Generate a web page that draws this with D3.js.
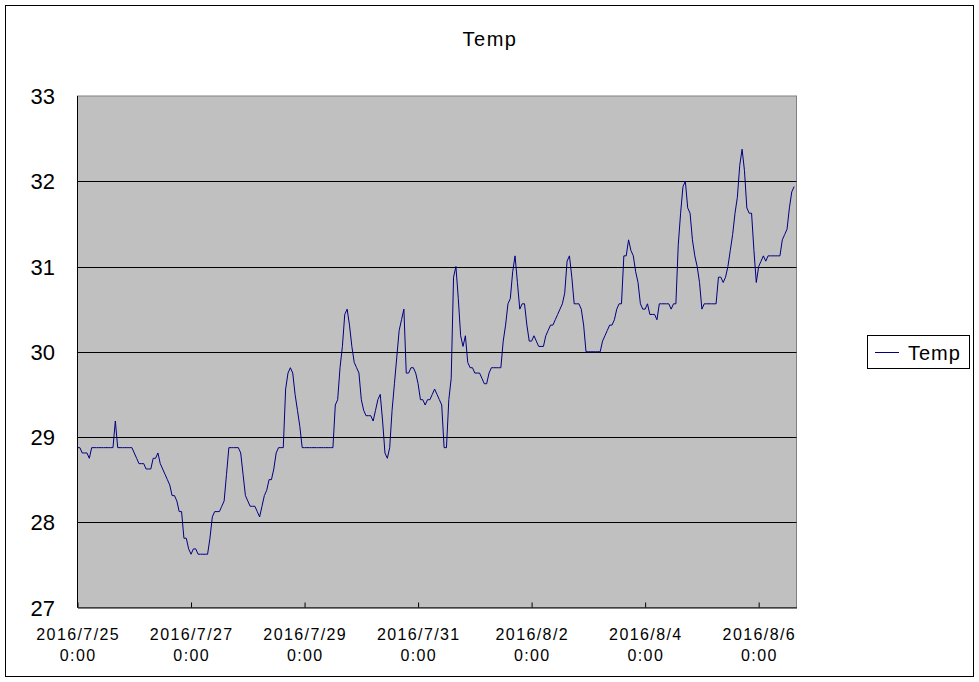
<!DOCTYPE html>
<html>
    <head>
        <meta charset="utf-8">
        <script src="https://d3js.org/d3.v7.min.js"></script>
        <style>
          body { margin: 0; background: #fff; }
          text { font-family: "Liberation Sans", Arial, sans-serif; fill: #000; }
        </style>
    </head>
    <body>
        <div id="chart"></div>
        <script>
            // hourly readings from 2016/7/25 0:00
            const startTime = new Date(2016, 6, 25, 0, 0);
            const endTime = new Date(2016, 7, 6, 16, 0);
            const temps = [
              28.875, 28.875, 28.8125, 28.8125, 28.8125, 28.75, 28.875, 28.875, 28.875, 28.875, 28.875, 28.875,
              28.875, 28.875, 28.875, 28.875, 29.1875, 28.875, 28.875, 28.875, 28.875, 28.875, 28.875, 28.875,
              28.8125, 28.75, 28.6875, 28.6875, 28.6875, 28.625, 28.625, 28.625, 28.75, 28.75, 28.8125, 28.6875,
              28.625, 28.5625, 28.5, 28.4375, 28.3125, 28.3125, 28.25, 28.125, 28.125, 27.8125, 27.8125, 27.6875,
              27.625, 27.6875, 27.6875, 27.625, 27.625, 27.625, 27.625, 27.625, 27.8125, 28.0625, 28.125, 28.125,
              28.125, 28.1875, 28.25, 28.5625, 28.875, 28.875, 28.875, 28.875, 28.875, 28.8125, 28.5625, 28.3125,
              28.25, 28.1875, 28.1875, 28.1875, 28.125, 28.0625, 28.1875, 28.3125, 28.375, 28.5, 28.5, 28.625,
              28.8125, 28.875, 28.875, 28.875, 29.5625, 29.75, 29.8125, 29.75, 29.5, 29.3125, 29.125, 28.875,
              28.875, 28.875, 28.875, 28.875, 28.875, 28.875, 28.875, 28.875, 28.875, 28.875, 28.875, 28.875,
              28.875, 29.375, 29.4375, 29.8125, 30.0625, 30.4375, 30.5, 30.3125, 30.0625, 29.875, 29.8125, 29.75,
              29.4375, 29.3125, 29.25, 29.25, 29.25, 29.1875, 29.3125, 29.4375, 29.5, 29.1875, 28.8125, 28.75,
              28.875, 29.3125, 29.625, 29.9375, 30.25, 30.375, 30.5, 29.75, 29.75, 29.8125, 29.8125, 29.75,
              29.625, 29.4375, 29.4375, 29.375, 29.4375, 29.4375, 29.5, 29.5625, 29.5, 29.4375, 29.375, 28.875,
              28.875, 29.4375, 29.6875, 30.875, 31.0, 30.625, 30.1875, 30.0625, 30.1875, 29.875, 29.8125, 29.8125,
              29.75, 29.75, 29.75, 29.6875, 29.625, 29.625, 29.75, 29.8125, 29.8125, 29.8125, 29.8125, 29.8125,
              30.125, 30.3125, 30.5625, 30.625, 30.9375, 31.125, 30.8125, 30.5, 30.5625, 30.5625, 30.3125, 30.125,
              30.125, 30.1875, 30.125, 30.0625, 30.0625, 30.0625, 30.1875, 30.25, 30.3125, 30.3125, 30.375, 30.4375,
              30.5, 30.5625, 30.6875, 31.0625, 31.125, 30.875, 30.5625, 30.5625, 30.5625, 30.5, 30.3125, 30.0,
              30.0, 30.0, 30.0, 30.0, 30.0, 30.0, 30.125, 30.1875, 30.25, 30.3125, 30.3125, 30.375,
              30.5, 30.5625, 30.5625, 31.125, 31.125, 31.3125, 31.1875, 31.125, 30.9375, 30.8125, 30.5625, 30.5,
              30.5, 30.5625, 30.4375, 30.4375, 30.4375, 30.375, 30.5625, 30.5625, 30.5625, 30.5625, 30.5625, 30.5,
              30.5625, 30.5625, 31.25, 31.625, 31.9375, 32.0, 31.6875, 31.625, 31.3125, 31.125, 31.0, 30.8125,
              30.5, 30.5625, 30.5625, 30.5625, 30.5625, 30.5625, 30.5625, 30.875, 30.875, 30.8125, 30.875, 31.0,
              31.1875, 31.375, 31.625, 31.8125, 32.1875, 32.375, 32.125, 31.6875, 31.625, 31.625, 31.1875, 30.8125,
              31.0, 31.0625, 31.125, 31.0625, 31.125, 31.125, 31.125, 31.125, 31.125, 31.125, 31.3125, 31.375,
              31.4375, 31.6875, 31.875, 31.9375
            ];
            const yTicks = [27, 28, 29, 30, 31, 32, 33];
            const xTickDays = ["2016/7/25", "2016/7/27", "2016/7/29", "2016/7/31", "2016/8/2", "2016/8/4", "2016/8/6"];

            const width = 979,
                height = 682;
            const plot = {left: 77.5, top: 96, right: 796.5, bottom: 607.5};

            const svg = d3.select("#chart")
              .append("svg")
                .attr("width", width)
                .attr("height", height);

            // outer frame
            svg.append("rect")
              .attr("x", 5.5).attr("y", 5.5)
              .attr("width", 968).attr("height", 671)
              .attr("fill", "#fff")
              .attr("stroke", "#000");

            const x = d3.scaleTime()
              .domain([startTime, endTime])
              .range([plot.left, plot.right]);
            const y = d3.scaleLinear()
              .domain([27, 33])
              .range([plot.bottom, plot.top]);

            const data = temps.map((v, i) => ({t: d3.timeHour.offset(startTime, i), v: v}));

            // plot area
            svg.append("rect")
              .attr("x", plot.left).attr("y", plot.top)
              .attr("width", plot.right - plot.left)
              .attr("height", plot.bottom - plot.top)
              .attr("fill", "#c0c0c0")
              .attr("stroke", "#808080");

            // gridlines
            svg.append("g")
              .selectAll("line")
              .data(yTicks.slice(1, -1))
              .join("line")
                .attr("x1", plot.left).attr("x2", plot.right)
                .attr("y1", d => Math.round(y(d)) + 0.5)
                .attr("y2", d => Math.round(y(d)) + 0.5)
                .attr("stroke", "#000");

            // y labels
            svg.append("g")
              .selectAll("text")
              .data(yTicks)
              .join("text")
                .attr("x", 55)
                .attr("y", d => y(d) + 8)
                .attr("text-anchor", "end")
                .style("font-size", "22px")
                .text(d => d);

            // x axis with inside ticks
            const tickDates = xTickDays.map(s => d3.timeParse("%Y/%m/%d")(s));
            const xAxis = svg.append("g")
              .attr("transform", `translate(0, ${plot.bottom})`)
              .call(d3.axisBottom(x).tickValues(tickDates).tickSizeInner(-5).tickSizeOuter(0).tickFormat(""));
            xAxis.select(".domain").attr("stroke", "#000");
            xAxis.selectAll(".tick line").attr("stroke", "#000");

            const xLabels = svg.append("g")
              .selectAll("text")
              .data(xTickDays)
              .join("text")
                .attr("text-anchor", "middle")
                .style("font-size", "16px")
                .style("letter-spacing", "1.4px")
                .attr("transform", (d, i) => `translate(${x(tickDates[i]) + 0.7}, 0)`);
            xLabels.append("tspan").attr("x", 0).attr("y", 640).text(d => d);
            xLabels.append("tspan").attr("x", 0).attr("y", 661).text("0:00");

            // y axis line
            svg.append("line")
              .attr("x1", plot.left).attr("x2", plot.left)
              .attr("y1", plot.top).attr("y2", plot.bottom)
              .attr("stroke", "#000");

            // series
            const line = d3.line()
              .x(d => x(d.t))
              .y(d => y(d.v));
            svg.append("path")
              .datum(data)
              .attr("d", line)
              .attr("fill", "none")
              .attr("stroke", "#000080")
              .attr("stroke-width", 1);

            // title
            svg.append("text")
              .attr("x", 490).attr("y", 46)
              .attr("text-anchor", "middle")
              .style("font-size", "20px")
              .style("letter-spacing", "1.5px")
              .text("Temp");

            // legend
            const legend = svg.append("g");
            legend.append("rect")
              .attr("x", 867.5).attr("y", 335.5)
              .attr("width", 102).attr("height", 33)
              .attr("fill", "#fff")
              .attr("stroke", "#000");
            legend.append("line")
              .attr("x1", 875).attr("x2", 899)
              .attr("y1", 352.5).attr("y2", 352.5)
              .attr("stroke", "#000080");
            legend.append("text")
              .attr("x", 908).attr("y", 360)
              .style("font-size", "20px")
              .style("letter-spacing", "1px")
              .text("Temp");
        </script>
    </body>
</html>
